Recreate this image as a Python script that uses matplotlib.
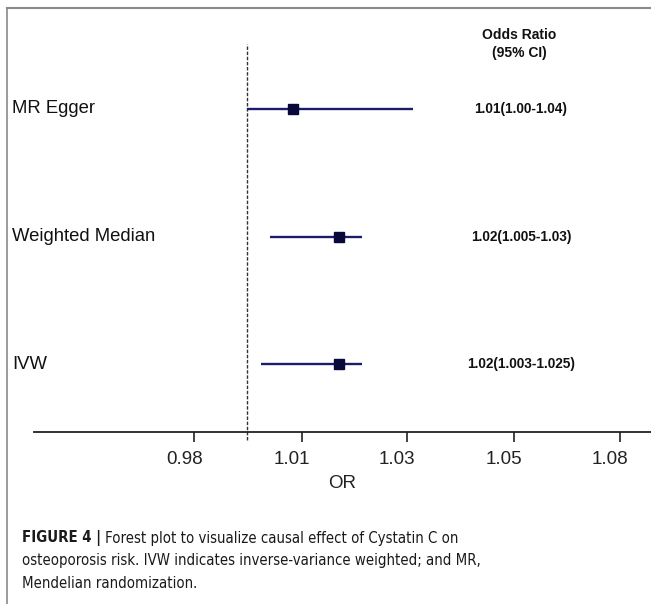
import matplotlib
matplotlib.use("Agg")
import matplotlib.pyplot as plt
import matplotlib.transforms as mtransforms
from matplotlib.lines import Line2D
from matplotlib import font_manager
from matplotlib.font_manager import FontProperties

# Datos
methods = ["IVW", "Weighted Median", "MR Egger"]
or_est = [1.02, 1.02, 1.01]
ci_low = [1.003, 1.005, 1.00]
ci_high = [1.025, 1.025, 1.036]
or_text = ["1.02(1.003-1.025)", "1.02(1.005-1.03)", "1.01(1.00-1.04)"]

tick_pos = [0.9885, 1.012, 1.0348, 1.058, 1.0811]
tick_labels = ["0.98", "1.01", "1.03", "1.05", "1.08"]

caption = ["Forest plot to visualize causal effect of Cystatin C on",
           "osteoporosis risk. IVW indicates inverse-variance weighted; and MR,",
           "Mendelian randomization."]

plt.rcParams['font.family'] = ['Liberation Sans', 'DejaVu Sans']

# busca una fuente estrecha para el pie
narrow_reg, narrow_bold = None, None
for f in font_manager.fontManager.ttflist:
    fn = f.fname.lower()
    if ('narrow' in fn or 'condensed' in fn) and 'oblique' not in fn and 'italic' not in fn:
        if 'bold' in fn:
            narrow_bold = narrow_bold or f.fname
        else:
            narrow_reg = narrow_reg or f.fname

def cap_font(bold=False, size=12.5):
    if bold and narrow_bold:
        return FontProperties(fname=narrow_bold, size=size)
    if not bold and narrow_reg:
        return FontProperties(fname=narrow_reg, size=size)
    return FontProperties(family='Liberation Sans', weight='bold' if bold else 'normal', size=size)

W, H = 651, 604
fig = plt.figure(figsize=(W / 100, H / 100), dpi=100)

def fx(px):
    return px / W

def fy(py):
    return 1 - py / H

# Ejes: línea del eje x desde 34 px hasta el borde, en y = 432 px
ax = fig.add_axes([fx(34), fy(432), 1 - fx(34), (432 - 8) / H])
ax.set_xlim(0.9537, 1.0878)
ax.set_ylim(-0.533, 2.792)

for s in ['top', 'right', 'left']:
    ax.spines[s].set_visible(False)
ax.spines['bottom'].set_linewidth(1.3)
ax.spines['bottom'].set_color('#222222')
ax.set_yticks([])

ax.set_xticks(tick_pos)
ax.set_xticklabels(tick_labels, fontsize=13.5, color='#222222')
ax.tick_params(axis='x', direction='out', length=7, width=1.2, color='#222222', pad=7)
off = mtransforms.ScaledTranslation(-10 / 100, 0, fig.dpi_scale_trans)
for lab in ax.get_xticklabels():
    lab.set_transform(lab.get_transform() + off)
ax.set_xlabel("OR", fontsize=13.5, color='#222222', labelpad=5)

# Línea de referencia en OR = 1
ax.plot([1.0, 1.0], [-0.596, 2.51], color='#333333', lw=1.0,
        linestyle=(0, (2.5, 1.2)), clip_on=False)

trans = mtransforms.blended_transform_factory(fig.transFigure, ax.transData)
for i in range(len(methods)):
    ax.plot([ci_low[i], ci_high[i]], [i, i], color='#1c1c6b', lw=1.7, solid_capstyle='butt')
    ax.plot(or_est[i], i, marker='s', markersize=6.5, color='#08083a')
    ax.text(fx(12), i, methods[i], transform=trans, fontsize=13.3,
            va='center', ha='left', color='#111111')
    ax.text(fx(521), i, or_text[i], transform=trans, fontsize=9.8,
            fontweight='bold', va='center', ha='center', color='#111111')

fig.text(fx(519), fy(35), "Odds Ratio", fontsize=10, fontweight='bold', ha='center', va='center', color='#111111')
fig.text(fx(519), fy(53), "(95% CI)", fontsize=10, fontweight='bold', ha='center', va='center', color='#111111')

# Bordes del recuadro
fig.add_artist(Line2D([fx(7), 1], [fy(8), fy(8)], color='#8a8a8a', lw=1.5))
fig.add_artist(Line2D([fx(7), fx(7)], [fy(8), 0], color='#8a8a8a', lw=1.2))

# Pie de figura: ajusta el tamaño para que la segunda línea mida ~460 px
renderer = fig.canvas.get_renderer()
probe = fig.text(0, 0, caption[1], fontproperties=cap_font(False, 12))
w12 = probe.get_window_extent(renderer=renderer).width
probe.remove()
csize = 12 * 460 / w12

x0 = fx(22)
ys = [538, 561, 584]
bold = fig.text(x0, fy(ys[0]), "FIGURE 4 |", fontproperties=cap_font(True, csize),
                ha='left', va='center', color='#1a1a1a')
bb = bold.get_window_extent(renderer=renderer)
fig.text(bb.x1 / W + fx(4), fy(ys[0]), caption[0], fontproperties=cap_font(False, csize),
         ha='left', va='center', color='#1a1a1a')
fig.text(x0, fy(ys[1]), caption[1], fontproperties=cap_font(False, csize),
         ha='left', va='center', color='#1a1a1a')
fig.text(x0, fy(ys[2]), caption[2], fontproperties=cap_font(False, csize),
         ha='left', va='center', color='#1a1a1a')

fig.savefig("out.png", dpi=100)
